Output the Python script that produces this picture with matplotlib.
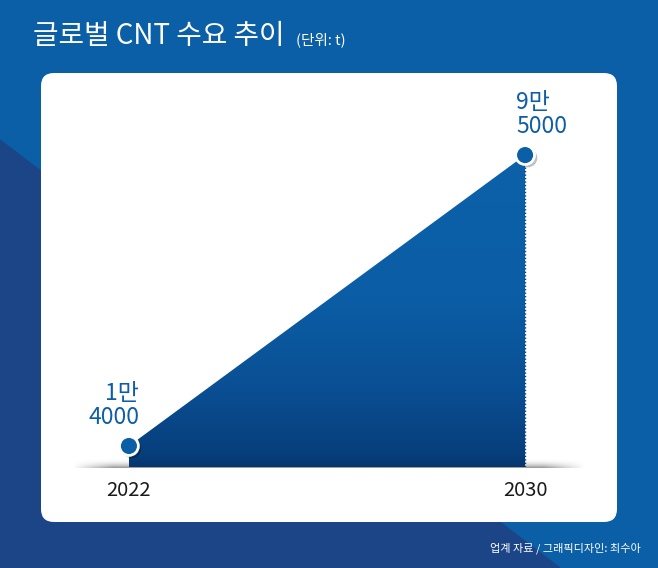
import numpy as np
import matplotlib
matplotlib.use('Agg')
import matplotlib.pyplot as plt
import matplotlib.patheffects as pe
from matplotlib.patches import FancyBboxPatch, Polygon, Rectangle
from matplotlib.colors import LinearSegmentedColormap

plt.rcParams['font.family'] = ['Noto Sans CJK KR', 'DejaVu Sans']

# 데이터
years = [2022, 2030]
demand = [14000, 95000]
value_labels = ['1만\n4000', '9만\n5000']
year_labels = ['2022', '2030']
title = '글로벌 CNT 수요 추이'
unit = '(단위: t)'
source = '업계 자료 / 그래픽디자인: 최수아'

BLUE = '#0b5fa6'
NAVY = '#1b4586'
TXT_BLUE = '#0d5ea6'

W, H = 658, 568
fig = plt.figure(figsize=(W / 100, H / 100), dpi=100)

# 배경 (픽셀 좌표)
bg = fig.add_axes([0, 0, 1, 1])
bg.set_xlim(0, W)
bg.set_ylim(H, 0)
bg.axis('off')
bg.add_patch(Rectangle((0, 0), W, H, color=BLUE, zorder=0))
bg.add_patch(Polygon([(0, 140), (560, H), (0, H)], color=NAVY, zorder=1))

# 흰색 카드
r = 13
cx0, cy0, cx1, cy1 = 41, 73, 617, 522
bg.add_patch(FancyBboxPatch((cx0 + r, cy0 + r), cx1 - cx0 - 2 * r, cy1 - cy0 - 2 * r,
                            boxstyle=f'round,pad={r}', fc='white', ec='none', zorder=2))

# 바닥 그림자
sx0, sx1, sy0, sy1 = 72, 585, 458, 468
nx, ny = 300, 30
hx = np.linspace(0, 1, nx)
fade = np.clip(np.minimum(hx, 1 - hx) / 0.08, 0, 1)
vy = np.linspace(0, 1, ny) ** 2.2
shade = np.zeros((ny, nx, 4))
shade[..., :3] = 0.45
shade[..., 3] = np.outer(vy, fade) * 0.75
bg.imshow(shade, extent=[sx0, sx1, sy1, sy0], origin='upper', aspect='auto', zorder=3,
          interpolation='bilinear')

# 제목
bg.text(33, 36, title, color='white', fontsize=20, fontweight='medium', va='center', ha='left', zorder=5)
bg.text(296, 40, unit, color='white', fontsize=10.5, va='center', ha='left', zorder=5)
bg.text(641, 548, source, color='white', fontsize=8, va='center', ha='right', zorder=5)

# 차트
ax = fig.add_axes([72 / W, 101 / H, 513 / W, 387 / H])
ax.patch.set_alpha(0)
x_lo, x_hi = 2020.85, 2031.21
y_lo, y_hi = 8150, 115900
ax.set_xlim(x_lo, x_hi)
ax.set_ylim(y_lo, y_hi)
for s in ax.spines.values():
    s.set_visible(False)
ax.set_yticks([])
ax.set_xticks(years)
ax.set_xticklabels(year_labels, fontsize=14.5, color='#1a1a1a')
ax.tick_params(axis='x', length=0, pad=9)

# 그라디언트 면적
cmap = LinearSegmentedColormap.from_list(
    'g', [(0.0, '#06366f'), (0.04, '#073e7c'), (0.25, '#0a4f93'), (0.55, '#0b5ea6'), (1.0, '#0b61a9')])
grad = np.linspace(0, 1, 256).reshape(-1, 1)
im = ax.imshow(grad, cmap=cmap, extent=[years[0], years[-1], y_lo, max(demand)],
               origin='lower', aspect='auto', zorder=2)
poly = Polygon([(years[0], y_lo), (years[0], demand[0]), (years[1], demand[1]), (years[1], y_lo)],
               closed=True, transform=ax.transData, fc='none', ec='none')
ax.add_patch(poly)
im.set_clip_path(poly)
ax.vlines(years[1], y_lo, demand[1], colors='#0a3f7c', linestyles=(0, (1, 1.5)), lw=1, zorder=3)

# 점
ax.scatter(years, demand, s=185, color=BLUE, edgecolor='white', linewidth=2, zorder=5, clip_on=False,
           path_effects=[pe.SimplePatchShadow(offset=(2, -2), shadow_rgbFace='black', alpha=0.25),
                         pe.Normal()])

# 값 레이블
ax.annotate(value_labels[0], (years[0], demand[0]), xytext=(7.5, 12), textcoords='offset points',
            ha='right', va='bottom', fontsize=16.5, color=TXT_BLUE, linespacing=1.1)
ax.annotate(value_labels[1], (years[1], demand[1]), xytext=(-6.5, 12), textcoords='offset points',
            ha='left', va='bottom', fontsize=16.5, color=TXT_BLUE, linespacing=1.1)

fig.savefig('out.png', dpi=100)
